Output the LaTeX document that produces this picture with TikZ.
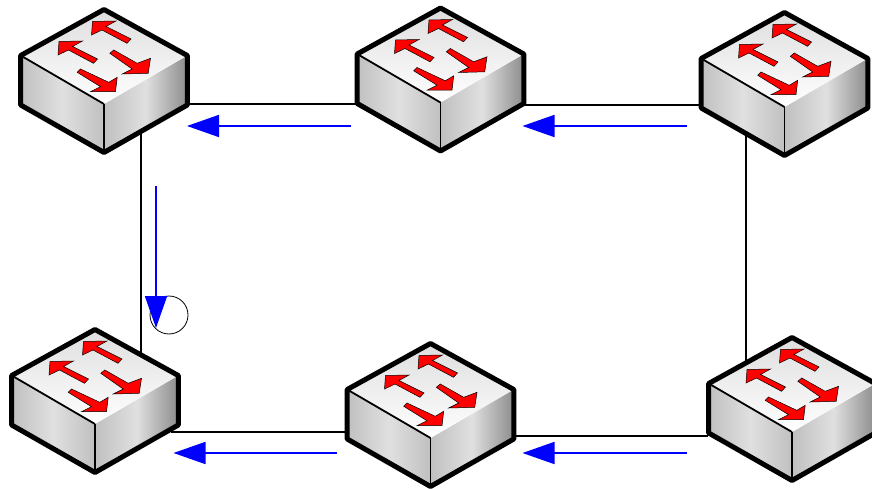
\documentclass[tikz,border=0pt]{standalone}
\usetikzlibrary{arrows.meta}

\definecolor{flowblue}{RGB}{0,0,255}
\definecolor{facemid}{RGB}{224,224,224}
\definecolor{faceside}{RGB}{192,192,192}
\definecolor{facedark}{RGB}{140,140,140}
\definecolor{facetop}{RGB}{222,222,222}

\tikzset{
	link/.style={line width=2.2pt, black},
	flow/.style={line width=1.8pt, flowblue, -{Triangle[length=32pt,width=22pt]}},
	portarrow/.style={fill=red, draw=black, line width=0.5pt, line join=miter},
	switchbox/.pic={
		% Flaechen
		\path[left color=faceside, right color=faceside, middle color=facemid]
			(-83.3,48.5) -- (0,97) -- (0,145.5) -- (-83.3,98) -- cycle;
		\path[left color=faceside, right color=facedark, middle color=facemid]
			(0,97) -- (83.3,48.5) -- (83.3,98) -- (0,145.5) -- cycle;
		\path[top color=facetop, bottom color=white]
			(0,2.5) -- (83.3,48.5) -- (0,97) -- (-83.3,48.5) -- cycle;
		% Kanten
		\draw[line width=1.8pt] (-83.3,48.5) -- (0,97);
		\draw[line width=1.8pt] (0,97) -- (0,145.5);
		\draw[line width=5pt, line join=round]
			(0,2.5) -- (83.3,48.5) -- (83.3,98) -- (0,145.5) -- (-83.3,98) -- (-83.3,48.5) -- cycle;
		% Pfeile
		\draw[portarrow] (-11.5,14.5) -- (12,14) -- (2,19.5) -- (27,32) -- (23,36.3) -- (-2,23) -- (-12.5,28) -- cycle;
		\draw[portarrow] (-45,34.5) -- (-21.5,34) -- (-31.5,39.5) -- (-6.5,52) -- (-10.5,56.3) -- (-35.5,43) -- (-46,48) -- cycle;
		\draw[portarrow] (44.2,66.3) -- (46.5,51.3) -- (33.2,56.3) -- (9.8,43) -- (5.8,46.3) -- (28.2,62) -- (18.2,67) -- cycle;
		\draw[portarrow] (11.5,84.7) -- (13.2,70.3) -- (4.8,75.3) -- (-23.5,62) -- (-26.8,65.3) -- (-3.5,79.7) -- (-13.5,84.7) -- cycle;
	}
}

\begin{document}
\begin{tikzpicture}[x=1pt, y=-1pt]
	\useasboundingbox (0,0) rectangle (872,489);

	% zeichne Switches
	\pic (swa) at (104,7) {switchbox};
	\pic (swb) at (440.5,5.5) {switchbox};
	\pic (swc) at (784.5,10) {switchbox};
	\pic (swd) at (95,327) {switchbox};
	\pic (swe) at (430.5,341) {switchbox};
	\pic (swf) at (792,335) {switchbox};

	% zeichne Anschlusspunkte
	\coordinate (swaeast) at (188,104);
	\coordinate (swbwest) at (356,104);
	\coordinate (swbeast) at (525,105);
	\coordinate (swcwest) at (700,105);
	\coordinate (swaport) at (141,132);
	\coordinate (swdport) at (141,354);
	\coordinate (swcport) at (746,133);
	\coordinate (swfport) at (746,362);
	\coordinate (swdeast) at (171,432);
	\coordinate (swewest) at (347,432);
	\coordinate (sweeast) at (515,436);
	\coordinate (swfwest) at (708,436);

	% zeichne Leitungen
	\draw[link] (swaeast) -- (swbwest);
	\draw[link] (swbeast) -- (swcwest);
	\draw[link] (swaport) -- (swdport);
	\draw[link] (swcport) -- (swfport);
	\draw[link] (swdeast) -- (swewest);
	\draw[link] (sweeast) -- (swfwest);

	% zeichne Kreis
	\node[circle, draw, line width=0.8pt, minimum size=38pt, inner sep=0pt] (ring) at (169,315) {};

	% zeichne Richtung
	\coordinate (flowaa) at (351,126);
	\coordinate (flowab) at (187,126);
	\coordinate (flowba) at (687,126);
	\coordinate (flowbb) at (522.5,126);
	\coordinate (flowca) at (156,186);
	\coordinate (flowcb) at (156,328);
	\coordinate (flowda) at (337,453);
	\coordinate (flowdb) at (173.5,453);
	\coordinate (flowea) at (687,453);
	\coordinate (floweb) at (522.5,453);
	\draw[flow] (flowaa) -- (flowab);
	\draw[flow] (flowba) -- (flowbb);
	\draw[flow] (flowca) -- (flowcb);
	\draw[flow] (flowda) -- (flowdb);
	\draw[flow] (flowea) -- (floweb);
\end{tikzpicture}
\end{document}
